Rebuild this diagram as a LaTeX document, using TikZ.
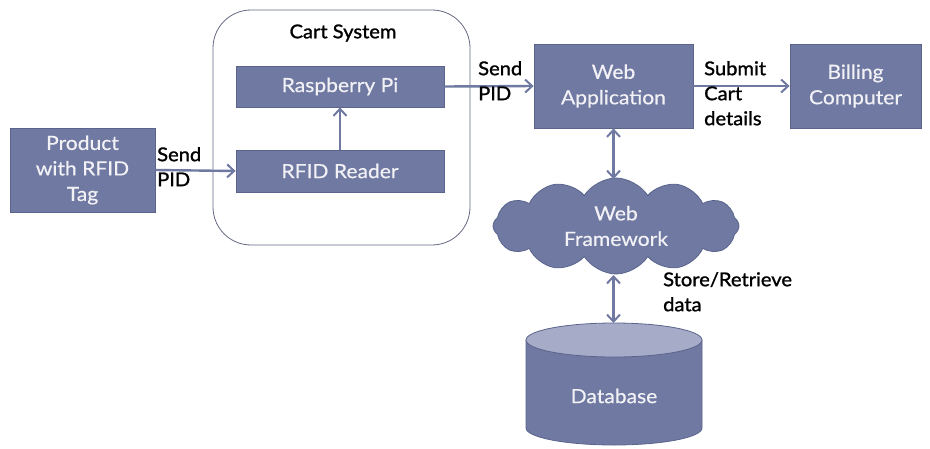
\documentclass[tikz,border=0pt]{standalone}
\usepackage{fontspec}
\setmainfont{Lato}
\newfontfamily\boxfont{Lato}[FakeStretch=1.08,FakeBold=0.5]
\newfontfamily\lblfont{Lato}[FakeStretch=1.06,FakeBold=1.3]
\usetikzlibrary{arrows.meta,shapes.symbols}
\definecolor{boxfill}{RGB}{111,121,161}
\definecolor{boxline}{RGB}{90,100,140}
\definecolor{topfill}{RGB}{166,171,199}
\definecolor{txtw}{RGB}{242,242,246}
\definecolor{grayline}{RGB}{100,104,130}
\tikzset{
  blk/.style={draw=boxline, line width=0.8pt, fill=boxfill, text=txtw, align=center,
    font=\boxfont\fontsize{19.5}{25.5}\selectfont, inner sep=0pt},
  lbl/.style={text=black, align=left, font=\lblfont\fontsize{19}{25}\selectfont, inner sep=0pt},
  tip/.style={Straight Barb[length=7pt,width=13pt,line width=2pt]},
  conn/.style={draw=boxfill, line width=2.4pt, -{Straight Barb[length=7pt,width=13pt,line width=2pt]}},
  dconn/.style={draw=boxfill, line width=2.4pt, {Straight Barb[length=7pt,width=13pt,line width=2pt]}-{Straight Barb[length=7pt,width=13pt,line width=2pt]}},
}
\begin{document}
\begin{tikzpicture}[x=1pt,y=1pt]
\useasboundingbox (0,0) rectangle (930,-448);
% cart system container
\node[draw=grayline, line width=0.8pt, rounded corners=38pt, minimum width=257pt, minimum height=235pt, inner sep=0pt] (cart) at (341.5,-127.5) {};
\node[lbl] (carttitle) at (343,-33) {Cart System};
% boxes
\node[blk, minimum width=145pt, minimum height=84pt] (prod) at (82.5,-170) {Product\\with RFID\\Tag};
\node[blk, minimum width=208pt, minimum height=41pt] (rpi) at (340,-86.5) {Raspberry Pi};
\node[blk, minimum width=208pt, minimum height=42pt] (rfid) at (340,-171) {RFID Reader};
\node[blk, minimum width=159pt, minimum height=84pt] (web) at (613.5,-86) {Web\\Application};
\node[blk, minimum width=131pt, minimum height=84pt] (bill) at (855.5,-86) {Billing\\Computer};
% cloud
\node[cloud, cloud puffs=12, cloud puff arc=115, aspect=2.5, draw=boxline, line width=0.8pt, fill=boxfill, text=txtw, align=center,
  font=\boxfont\fontsize{19.5}{25.5}\selectfont, minimum width=246pt, minimum height=96pt, inner sep=0pt] (cloud) at (616,-226) {Web\\Framework};
\coordinate (cloudtop) at (613.5,-179);
\coordinate (cloudbot) at (613.5,-275);
% database
\fill[boxfill, draw=boxline, line width=0.8pt] (526,-340) -- (526,-428) arc (180:360:88 and 17) -- (702,-340) -- cycle;
\draw[fill=topfill, draw=boxline, line width=0.8pt] (614,-340) ellipse (88 and 17);
\node[text=txtw, font=\boxfont\fontsize{19.5}{25.5}\selectfont, inner sep=0pt] (db) at (614,-396) {Database};
\coordinate (dbtop) at (613.5,-323);
% connectors
\draw[conn] (prod.east) -- (rfid.west);
\draw[conn] (rfid.north) -- (rpi.south);
\draw[conn] (rpi.east) -- (web.west);
\draw[conn] (web.east) -- (bill.west);
\draw[dconn] (web.south) -- (cloudtop);
\draw[dconn] (cloudbot) -- (dbtop);
% labels
\node[lbl, anchor=north west] (l1) at (157,-147) {Send\\PID};
\node[lbl, anchor=north west] (l2) at (478,-61) {Send\\PID};
\node[lbl, anchor=north west] (l3) at (704,-61) {Submit\\Cart\\details};
\node[lbl, anchor=north west] (l4) at (663,-272) {Store/Retrieve\\data};
\end{tikzpicture}
\end{document}
